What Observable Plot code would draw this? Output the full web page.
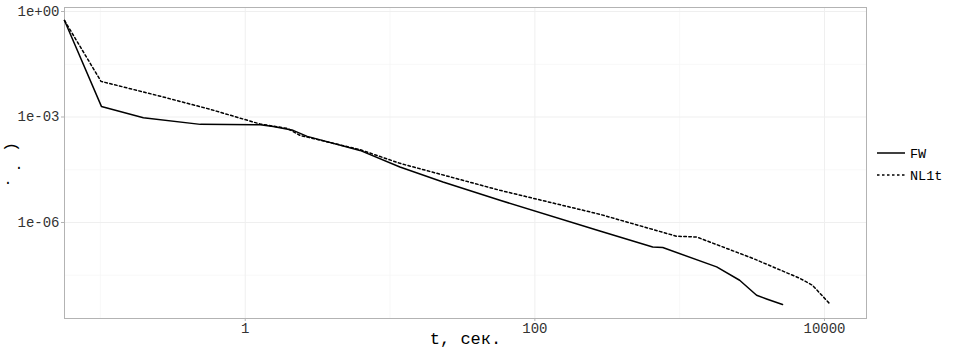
<!DOCTYPE html>
<html>
<head>
<meta charset="utf-8">
<script src="https://cdn.jsdelivr.net/npm/d3@7"></script>
<script src="https://cdn.jsdelivr.net/npm/@observablehq/plot@0.6"></script>
<style>
  html, body { margin: 0; padding: 0; background: #fff; }
  #chart { position: relative; width: 959px; height: 350px; }
</style>
</head>
<body>
<div id="chart"></div>
<script>
// Series: FW (solid)
const fwT = [0.0565, 0.1016, 0.198, 0.49, 1.27, 1.56, 2.14, 2.68, 6.2, 11.7, 23.2, 57.4, 281, 651, 764, 1800, 2594, 3398, 3981, 5130];
const fwE = [0.555, 0.0020, 9.55e-4, 6.17e-4, 6.04e-4, 5.4e-4, 4.17e-4, 2.81e-4, 1.12e-4, 3.78e-5, 1.42e-5, 4.28e-6, 5.74e-7, 2.01e-7, 1.94e-7, 5.45e-8, 2.28e-8, 8.55e-9, 6.7e-9, 4.65e-9];
// Series: NL1t (dotted)
const nlT = [0.0565, 0.101, 0.259, 0.574, 1.27, 1.95, 2.39, 6.2, 11.7, 57.4, 281, 953, 1309, 3186, 6730, 8260, 10820];
const nlE = [0.555, 0.0103, 0.0039, 0.00165, 6.3e-4, 4.74e-4, 3.0e-4, 1.18e-4, 4.81e-5, 8.22e-6, 1.71e-6, 4.06e-7, 3.87e-7, 9.6e-8, 2.6e-8, 1.64e-8, 4.97e-9];

const seriesNames = ["FW", "NL1t"];
const xTicks = [1, 100, 10000];
const xTickLabels = ["1", "100", "10000"];
const xMinorGrid = [0.1, 10, 1000];
const yTicks = [1, 1e-3, 1e-6];
const yTickLabels = ["1e+00", "1e-03", "1e-06"];
const yMinorGrid = [Math.pow(10, -1.5), Math.pow(10, -4.5), Math.pow(10, -7.5)];
const xLabel = "t, сек.";
const yLabelGlyphs = [")", ".", "."];

const data = [
  ...fwT.map((t, i) => ({t, e: fwE[i], s: seriesNames[0]})),
  ...nlT.map((t, i) => ({t, e: nlE[i], s: seriesNames[1]}))
];

const font = "'Liberation Mono', 'DejaVu Sans Mono', monospace";

const chart = Plot.plot({
  width: 959,
  height: 350,
  marginLeft: 64,
  marginRight: 93,
  marginTop: 7,
  marginBottom: 32,
  style: {fontFamily: font, background: "#fff"},
  x: {type: "log", domain: [0.0565, 19500]},
  y: {type: "log", domain: [1.86e-9, 1.30]},
  marks: [
    Plot.ruleX(xMinorGrid, {stroke: "#f6f6f6", strokeWidth: 0.8}),
    Plot.ruleY(yMinorGrid, {stroke: "#f6f6f6", strokeWidth: 0.8}),
    Plot.ruleX(xTicks, {stroke: "#efefef", strokeWidth: 1}),
    Plot.ruleY(yTicks, {stroke: "#efefef", strokeWidth: 1}),
    Plot.frame({stroke: "#b3b3b3", strokeWidth: 1}),
    Plot.axisX({ticks: xTicks, tickFormat: d => xTickLabels[xTicks.indexOf(d)], tickSize: 3, tickPadding: 2,
      stroke: "#b3b3b3", fill: "#333", fontSize: 14, label: null}),
    Plot.axisY({ticks: yTicks, tickFormat: d => yTickLabels[yTicks.indexOf(d)], tickSize: 3, tickPadding: 2,
      stroke: "#b3b3b3", fill: "#333", fontSize: 14, label: null}),
    Plot.line(data.filter(d => d.s === "FW"), {x: "t", y: "e", stroke: "#000", strokeWidth: 1.5}),
    Plot.line(data.filter(d => d.s === "NL1t"), {x: "t", y: "e", stroke: "#000", strokeWidth: 1.5, strokeDasharray: "2.5,2.5"}),
    Plot.text([xLabel], {frameAnchor: "bottom", dy: 20, text: d => d, fontSize: 17, fill: "#000", lineAnchor: "middle"})
  ]
});

document.getElementById("chart").appendChild(chart);
const svg = d3.select(chart);

// Y-axis title (only partially legible glyphs in the reference)
const yl = svg.append("g").attr("font-family", font).attr("fill", "#000").attr("text-anchor", "middle");
const glyphPos = [[12, 147, 16, -90], [19, 169, 14, 0], [8, 184, 14, 0]];
yLabelGlyphs.forEach((g, i) => {
  const [x, y, fs, rot] = glyphPos[i];
  yl.append("text").attr("transform", `translate(${x},${y}) rotate(${rot})`)
    .attr("font-size", fs).attr("dominant-baseline", rot ? "central" : "auto").text(g);
});

// Legend
const lg = svg.append("g").attr("font-family", font).attr("font-size", 13.5).attr("text-anchor", "start");
const styles = [null, "2.5,2.5"];
seriesNames.forEach((name, i) => {
  const y = 153 + i * 22;
  lg.append("line").attr("x1", 877).attr("x2", 905).attr("y1", y).attr("y2", y)
    .attr("stroke", "#000").attr("stroke-width", 1.5).attr("stroke-dasharray", styles[i]);
  lg.append("text").attr("x", 910).attr("y", y).attr("dy", "0.35em").attr("fill", "#000").text(name);
});
</script>
</body>
</html>
